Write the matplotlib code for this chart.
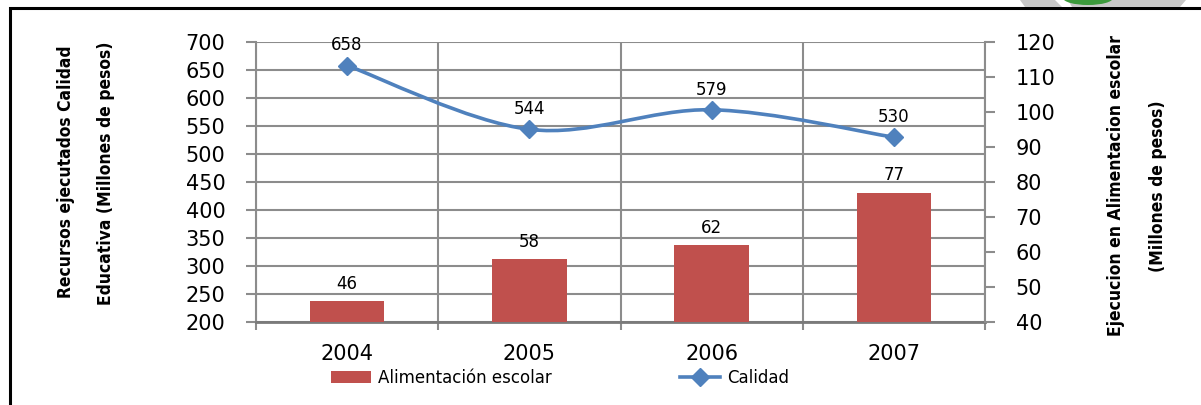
import matplotlib
matplotlib.use("Agg")
import matplotlib.pyplot as plt
from matplotlib.path import Path
from matplotlib.patches import PathPatch, Rectangle, Polygon, Ellipse
import numpy as np

# data
years = ["2004", "2005", "2006", "2007"]
alimentacion = [46, 58, 62, 77]       # right axis (bars)
calidad = [658, 544, 579, 530]        # left axis (line)
left_ticks = list(range(200, 701, 50))
right_ticks = list(range(40, 121, 10))

bar_color = "#C0504D"
line_color = "#4F81BD"
grid_color = "#8C8C8C"

W, H = 1201, 405
fig = plt.figure(figsize=(W / 100, H / 100), dpi=100)

# plot area in pixels
x0, x1, ytop, ybot = 256, 985, 42, 322
rect = [x0 / W, 1 - ybot / H, (x1 - x0) / W, (ybot - ytop) / H]

ax = fig.add_axes(rect)
ax.set_zorder(0)
ax2 = ax.twinx()
ax2.set_zorder(1)
ax2.patch.set_visible(False)
ax3 = fig.add_axes(rect, sharex=ax, sharey=ax)
ax3.set_zorder(2)
ax3.patch.set_visible(False)
ax3.axis("off")

x = np.arange(len(years))

# left axis + grid
ax.set_xlim(-0.5, len(years) - 0.5)
ax.set_ylim(200, 700)
ax.set_yticks(left_ticks)
ax.set_yticklabels([str(t) for t in left_ticks])
ax.yaxis.grid(True, color=grid_color, lw=1.5)
ax.set_xticks(x)
ax.set_xticklabels(years)
ax.set_xticks(np.arange(len(years) + 1) - 0.5, minor=True)
ax.xaxis.grid(True, which="minor", color=grid_color, lw=1.5)
ax.set_axisbelow(True)
ax.tick_params(axis="x", which="major", length=0, pad=16, labelsize=15)
ax.tick_params(axis="x", which="minor", length=6, color=grid_color, width=1.5)
ax.tick_params(axis="y", length=7, color=grid_color, width=1.5, pad=15, labelsize=15)
for s in ["top", "right"]:
    ax.spines[s].set_visible(False)
ax.spines["left"].set_color(grid_color)
ax.spines["left"].set_linewidth(1.5)
ax.spines["bottom"].set_color("#7A7A7A")
ax.spines["bottom"].set_linewidth(2)

# bars on right axis
ax2.set_ylim(40, 120)
ax2.set_yticks(right_ticks)
ax2.set_yticklabels([str(t) for t in right_ticks])
ax2.tick_params(axis="y", length=7, color=grid_color, width=1.5, pad=15, labelsize=15)
for s in ["top", "left", "bottom"]:
    ax2.spines[s].set_visible(False)
ax2.spines["right"].set_color(grid_color)
ax2.spines["right"].set_linewidth(1.5)
bars = ax2.bar(x, alimentacion, width=0.41, color=bar_color, zorder=2)
for xi, v in zip(x, alimentacion):
    ax2.annotate(str(v), (xi, v), xytext=(0, 6), textcoords="offset points",
                 ha="center", va="bottom", fontsize=12)

# smoothed line (Catmull-Rom -> bezier) on left scale
pts = np.column_stack([x, calidad]).astype(float)
ext = np.vstack([pts[0], pts, pts[-1]])
verts = [tuple(pts[0])]
codes = [Path.MOVETO]
for i in range(len(pts) - 1):
    p0, p1, p2, p3 = ext[i], ext[i + 1], ext[i + 2], ext[i + 3]
    c1 = p1 + (p2 - p0) / 6
    c2 = p2 - (p3 - p1) / 6
    verts += [tuple(c1), tuple(c2), tuple(p2)]
    codes += [Path.CURVE4] * 3
ax3.add_patch(PathPatch(Path(verts, codes), fill=False, edgecolor=line_color, lw=2.6, clip_on=False))
ax3.plot(x, calidad, linestyle="none", marker="D", markersize=9, color=line_color, clip_on=False)
for xi, v in zip(x, calidad):
    ax3.annotate(str(v), (xi, v), xytext=(0, 8), textcoords="offset points",
                 ha="center", va="bottom", fontsize=12)

# legend handle for the line
leg_line, = ax3.plot([], [], color=line_color, lw=2.6, marker="D", markersize=9)
fig.legend([bars, leg_line], ["Alimentación escolar", "Calidad"], loc="center",
           bbox_to_anchor=(560 / W, 1 - 378 / H), ncol=2, frameon=False, fontsize=12,
           handlelength=2.4, handletextpad=0.4, columnspacing=7.7)

# axis titles
lab = dict(rotation=90, ha="center", va="center", fontsize=12.5, fontweight="bold",
           family="DejaVu Sans", fontstretch="condensed")
fig.text(66 / W, 1 - 172 / H, "Recursos ejecutados Calidad", **lab)
fig.text(106 / W, 1 - 173 / H, "Educativa (Millones de pesos)", **lab)
fig.text(1116 / W, 1 - 186 / H, "Ejecucion en Alimentacion escolar", **lab)
fig.text(1158 / W, 1 - 186 / H, "(Millones de pesos)", **lab)

# outer frame and partial logo at top right
fig.patches.append(Rectangle((10 / W, -0.1), 1.2, 1.1 - 8 / H, transform=fig.transFigure,
                             fill=False, edgecolor="black", lw=2.2))
fig.patches.append(Polygon([(1020 / W, 1), (1186 / W, 1), (1180 / W, 1 - 7 / H), (1025 / W, 1 - 7 / H)],
                           closed=True, transform=fig.transFigure, color="#C8C8C8", lw=0))
fig.patches.append(Polygon([(1055 / W, 1), (1068 / W, 1), (1072 / W, 1 - 7 / H), (1062 / W, 1 - 7 / H)],
                           closed=True, transform=fig.transFigure, color="white", lw=0))
fig.patches.append(Ellipse((1088 / W, 1 + 2 / H), 50 / W, 14 / H, transform=fig.transFigure,
                           color="#3C9A3C", lw=0))

fig.savefig("out.png", dpi=100)
